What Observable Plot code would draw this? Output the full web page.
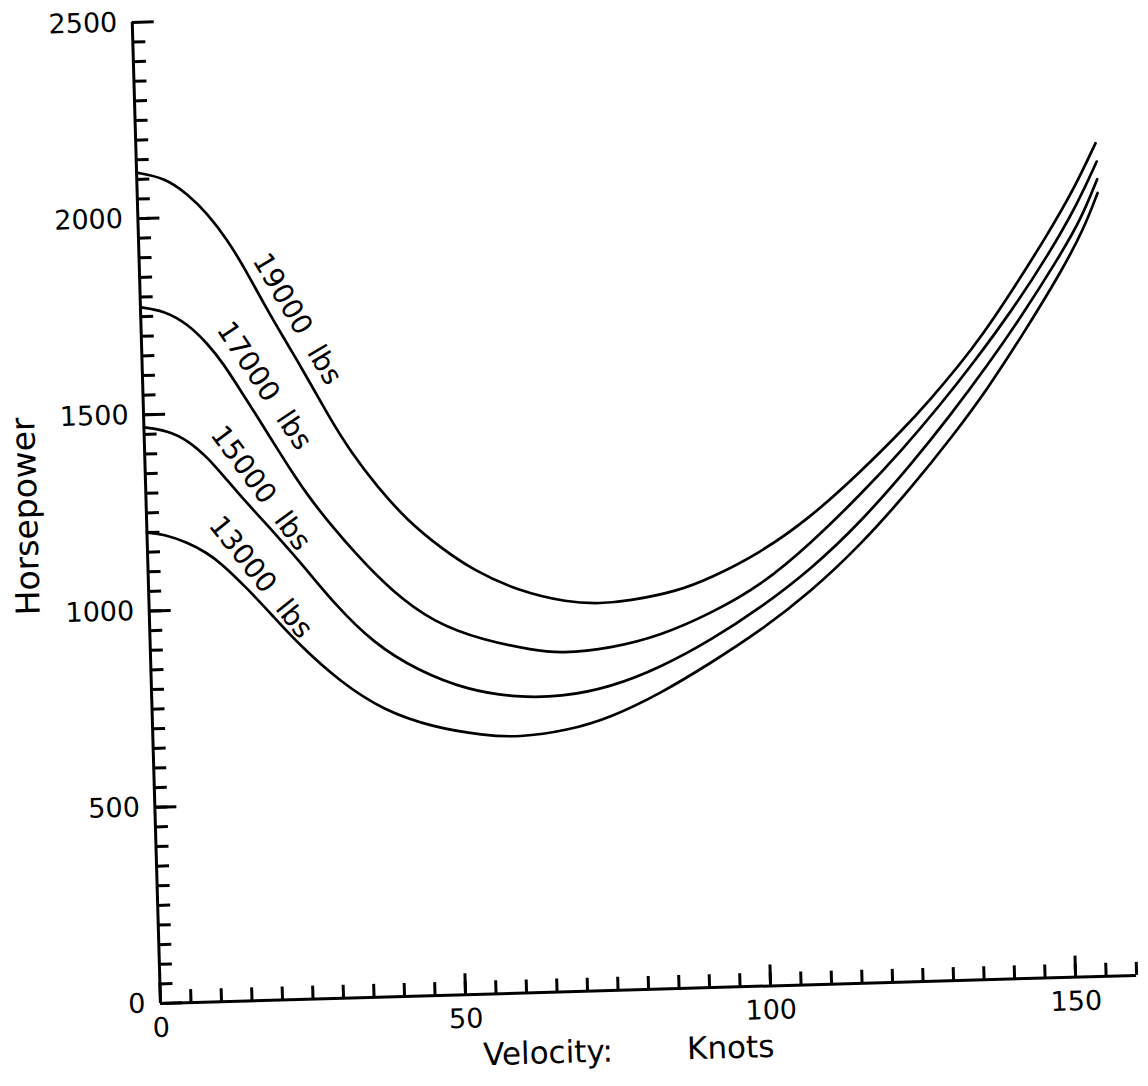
<!DOCTYPE html>
<html>
<head>
<meta charset="utf-8">
<script src="https://cdn.jsdelivr.net/npm/d3@7"></script>
<script src="https://cdn.jsdelivr.net/npm/@observablehq/plot@0.6"></script>
<style>
html, body { margin: 0; padding: 0; background: #fff; overflow: hidden; }
#chart svg { display: block; transform: rotate(-1.65deg); transform-origin: 160px 1003px; }
g[aria-label="y-title"] text { letter-spacing: 4.5px; }
g[aria-label="x-title"] text { letter-spacing: 1.5px; }
g[aria-label="curve-labels"] text { white-space: pre; }
</style>
</head>
<body>
<div id="chart"></div>
<script>
// Gross weight series (labels)
const weights = ["19000 lbs", "17000 lbs", "15000 lbs", "13000 lbs"];

// Velocity (knots) / Horsepower readings for each weight
const knots19000 = [0, 4.4, 8.2, 11.4, 14.6, 17.1, 20.2, 22.8, 25.5, 28.0, 30.6, 33.7, 38.0, 42.7, 48.0, 53.3, 60.4, 68.6, 74.0, 78.4, 86.7, 92.1, 100.0, 108.8, 117.2, 124.0, 129.0, 134.1, 137.5, 143.2, 149.0, 153.5, 157.2];
const hp19000    = [2117, 2103, 2060, 2008, 1938, 1870, 1775, 1700, 1625, 1552, 1475, 1392, 1298, 1212, 1140, 1080, 1025, 991, 986, 990, 1012, 1043, 1100, 1190, 1303, 1402, 1482, 1572, 1636, 1760, 1895, 2008, 2122];

const knots17000 = [0, 3.8, 7.6, 10.8, 13.3, 16.0, 18.7, 21.2, 23.8, 26.5, 29.7, 34.4, 39.7, 46.5, 54.6, 62.8, 67.2, 75.4, 83.7, 92.0, 100.3, 108.7, 117.1, 123.9, 130.6, 136.2, 143.0, 148.9, 154.0, 157.3];
const hp17000    = [1774, 1764, 1729, 1677, 1625, 1555, 1485, 1418, 1350, 1283, 1215, 1125, 1035, 950, 901, 872, 862, 871, 900, 953, 1020, 1124, 1245, 1352, 1468, 1572, 1708, 1840, 1970, 2075];

const knots15000 = [0, 3.9, 7.1, 10.3, 13.4, 16.0, 19.2, 22.3, 25.5, 30.2, 36.6, 43.7, 51.8, 59.9, 67.0, 75.2, 83.5, 91.8, 100.2, 108.6, 117.0, 125.4, 132.2, 138.5, 144.2, 150.5, 154.5, 157.3];
const hp15000    = [1468, 1458, 1432, 1387, 1327, 1277, 1220, 1163, 1103, 1008, 901, 829, 775, 753, 751, 772, 819, 884, 964, 1058, 1175, 1316, 1441, 1565, 1685, 1830, 1930, 2030];

const knots13000 = [0, 2.7, 6.6, 9.8, 11.9, 16.2, 20.3, 24.6, 31.0, 37.9, 46.0, 54.2, 59.8, 68.0, 75.1, 83.4, 91.7, 100.1, 108.4, 116.9, 125.3, 132.6, 138.4, 144.6, 150.9, 154.9, 157.3];
const hp13000    = [1200, 1195, 1172, 1143, 1118, 1050, 977, 900, 805, 730, 683, 659, 651, 665, 695, 753, 826, 906, 1000, 1117, 1256, 1390, 1505, 1645, 1795, 1905, 1995];

// Curve label anchors (data units) and text angles
const labelTexts = ["19000  lbs", "17000  lbs", "15000  lbs", "13000  lbs"];
const labelKnots = [25.6, 19.9, 18.8, 18.4];
const labelHp    = [1733, 1565, 1305, 1078];
const labelAngle = [61, 58, 55, 53];

// Axis ticks
const xMajorTicks = [0, 50, 100, 150];
const xMinorTicks = d3.range(5, 161, 5);
const yMajorTicks = [0, 500, 1000, 1500, 2000, 2500];
const yMinorTicks = d3.range(50, 2500, 50);

const seriesKnots = [knots19000, knots17000, knots15000, knots13000];
const seriesHp = [hp19000, hp17000, hp15000, hp13000];
const rows = weights.flatMap((w, i) => seriesKnots[i].map((k, j) => ({weight: w, knots: k, hp: seriesHp[i][j]})));
const labels = weights.map((w, i) => ({text: labelTexts[i], knots: labelKnots[i], hp: labelHp[i], angle: labelAngle[i]}));

const font = "DejaVu Sans";

const chart = Plot.plot({
  width: 1148,
  height: 1086,
  marginLeft: 160,
  marginRight: 11.5,
  marginTop: 21.5,
  marginBottom: 83,
  style: {fontFamily: font, background: "white", color: "#000"},
  x: {domain: [0, 160], label: null},
  y: {domain: [0, 2500], label: null},
  marks: [
    Plot.axisY(yMinorTicks, {tickSize: -13, strokeWidth: 3, tickFormat: () => "", label: null}),
    Plot.axisY(yMajorTicks, {tickSize: -22, tickPadding: 37, strokeWidth: 3, fontSize: 27, tickFormat: d => String(d), label: null}),
    Plot.axisX(xMinorTicks, {anchor: "bottom", tickSize: -13, strokeWidth: 3, tickFormat: () => "", label: null}),
    Plot.axisX(xMajorTicks, {anchor: "bottom", tickSize: -21, tickPadding: 35, strokeWidth: 3, fontSize: 27, tickFormat: d => String(d), label: null}),
    Plot.ruleX([0], {stroke: "#000", strokeWidth: 3}),
    Plot.ruleY([0], {stroke: "#000", strokeWidth: 3}),
    Plot.line(rows, {x: "knots", y: "hp", z: "weight", stroke: "#000", strokeWidth: 2.7, curve: "basis"}),
    Plot.text(labels, {x: "knots", y: "hp", text: "text", rotate: "angle", fontSize: 28, fontFamily: font, fill: "#000", ariaLabel: "curve-labels"}),
    Plot.text(["Horsepower"], {text: d => d, frameAnchor: "left", dx: -120, rotate: -90, textAnchor: "middle", fontSize: 33, fontFamily: font, fill: "#000", ariaLabel: "y-title"}),
    Plot.text(["Velocity:"], {text: d => d, frameAnchor: "bottom-left", dx: 321, dy: 71, textAnchor: "start", fontSize: 31, fontFamily: font, fill: "#000", ariaLabel: "x-title"}),
    Plot.text(["Knots"], {text: d => d, frameAnchor: "bottom-left", dx: 525, dy: 71, textAnchor: "start", fontSize: 31, fontFamily: font, fill: "#000", ariaLabel: "x-title"})
  ]
});

document.getElementById("chart").appendChild(chart);
</script>
</body>
</html>
